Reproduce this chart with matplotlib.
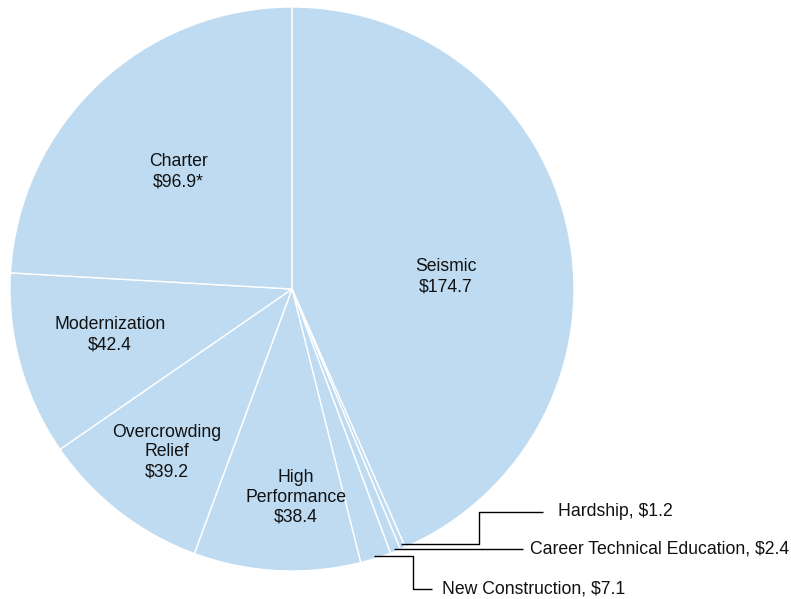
import numpy as np
from matplotlib import pyplot as plt

plt.rcParams['font.family'] = ['Liberation Sans', 'DejaVu Sans']

categories = ["Seismic", "Hardship", "Career Technical Education", "New Construction",
              "High Performance", "Overcrowding Relief", "Modernization", "Charter"]
values = [174.7, 1.2, 2.4, 7.1, 38.4, 39.2, 42.4, 96.9]
value_text = ["$174.7", "$1.2", "$2.4", "$7.1", "$38.4", "$39.2", "$42.4", "$96.9*"]

W, H = 791, 599
fill = '#BEDBF1'
fs = 12.7

def px(x, y):
    # pixel coords (top-left origin) -> data coords
    return x, H - y

fig = plt.figure(figsize=(W / 100, H / 100), dpi=100)
ax = fig.add_axes([0, 0, 1, 1])
ax.set_xlim(0, W)
ax.set_ylim(0, H)
ax.set_aspect('equal')
ax.axis('off')

cx, cy = px(292, 289)
R = 282
wedges, _ = ax.pie(values, startangle=90, counterclock=False, center=(cx, cy), radius=R,
                   colors=[fill] * len(values),
                   wedgeprops=dict(edgecolor='white', linewidth=1.0))
ax.set_xlim(0, W)
ax.set_ylim(0, H)

# inside labels
inside = {
    "Seismic": ("Seismic", (446, 277)),
    "High Performance": ("High\nPerformance", (296, 497)),
    "Overcrowding Relief": ("Overcrowding\nRelief", (167, 452)),
    "Modernization": ("Modernization", (110, 335)),
    "Charter": ("Charter", (178, 172)),
}
for i, name in enumerate(categories):
    if name in inside:
        txt, (x, y) = inside[name]
        ls = 1.3 if "\n" not in txt else 1.2
        ax.text(*px(x, y), txt + "\n" + value_text[i], ha='center', va='center',
                fontsize=fs, linespacing=ls, color='#111111')

# outside labels with elbow leader lines
outside = {
    "Hardship": [(479, 544), (479, 512), (543, 512)],
    "Career Technical Education": [(523, 549)],
    "New Construction": [(413, 556), (413, 589), (432, 589)],
}
text_x = {"Hardship": 558, "Career Technical Education": 530, "New Construction": 442}
for i, name in enumerate(categories):
    if name not in outside:
        continue
    w = wedges[i]
    mid = np.deg2rad((w.theta1 + w.theta2) / 2)
    sx = cx + R * 0.985 * np.cos(mid)
    sy = cy + R * 0.985 * np.sin(mid)
    pts = outside[name]
    first = px(*pts[0])
    xs = [sx, first[0]] + [px(*p)[0] for p in pts[1:]]
    ys = [first[1], first[1]] + [px(*p)[1] for p in pts[1:]]
    ax.plot(xs, ys, color='black', linewidth=1.0, solid_capstyle='butt')
    ax.text(text_x[name], ys[-1], name + ", " + value_text[i], ha='left', va='center',
            fontsize=fs, color='#111111')

fig.savefig('out.png', dpi=100)
